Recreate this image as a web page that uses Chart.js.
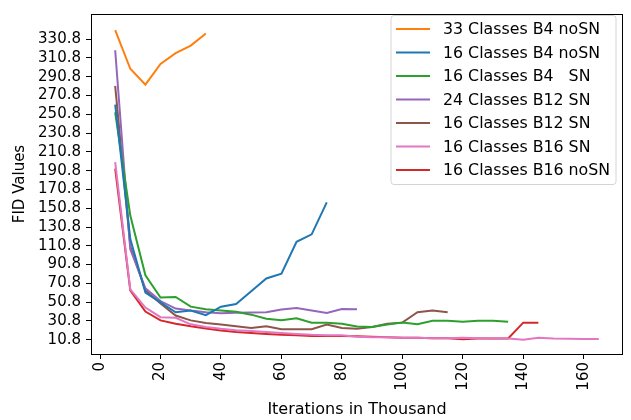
<!DOCTYPE html>
<html><head><meta charset="utf-8">
<script src="https://cdn.jsdelivr.net/npm/chart.js@4.4.1/dist/chart.umd.min.js"></script>
<style>html,body{margin:0;padding:0;background:#fff;overflow:hidden}#wrap{width:631px;height:420px;position:relative}</style>
</head><body><div id="wrap"><canvas id="c" width="631" height="420"></canvas></div>
<script>
// ---- data ----
const iterations = [5,10,15,20,25,30,35,40,45,50,55,60,65,70,75,80,85,90,95,100,105,110,115,120,125,130,135,140,145,150,155,160,165];
const labels = ["33 Classes B4 noSN","16 Classes B4 noSN","16 Classes B4   SN","24 Classes B12 SN","16 Classes B12 SN","16 Classes B16 SN","16 Classes B16 noSN"];
const c33B4noSN = [340.4, 299.3, 282.4, 304.5, 316, 324, 336.8];
const c16B4noSN = [261, 118, 61, 50.5, 40, 41.8, 37, 46, 48.8, 62.5, 76, 81, 115, 123, 157];
const c16B4SN = [253, 143, 79.4, 55.7, 56.4, 46, 43.2, 42, 40.5, 37.5, 33.1, 31.5, 33.6, 29, 29, 27.9, 25, 24.4, 26.9, 29, 27.2, 31, 31, 30, 31, 31, 30];
const c24B12SN = [319, 107, 65.5, 52, 44, 41.8, 40, 39, 39.5, 39.7, 40, 43, 44.6, 41.8, 39.2, 43.6, 43.2];
const c16B12SN = [281, 110, 63.4, 49.4, 36.6, 31.4, 28.5, 27, 25.1, 23.3, 25.1, 22, 22, 22, 26.9, 23.3, 22.5, 24.4, 27.9, 29, 40, 41.8, 40];
const c16B16SN = [200, 64.5, 45, 34.8, 34.2, 27.2, 24.4, 22.5, 21, 20, 19, 18, 17, 16, 15.5, 15.5, 14, 13.5, 13.5, 13, 13, 12.5, 12.5, 13, 12.5, 12, 12, 10.8, 12.9, 12, 11.8, 11.5, 11.5];
const c16B16noSN = [193, 63.4, 40.8, 31.4, 27.9, 25.1, 22.7, 20.5, 19, 18, 17, 16, 15.5, 14.7, 14.7, 14.7, 14.5, 14, 13.5, 13, 12.8, 12.5, 12.3, 11.2, 12, 12, 12.2, 29, 29];
const xTicks = [0,20,40,60,80,100,120,140,160];
const yTicks = [10.8,30.8,50.8,70.8,90.8,110.8,130.8,150.8,170.8,190.8,210.8,230.8,250.8,270.8,290.8,310.8,330.8];

const seriesList = [c33B4noSN, c16B4noSN, c16B4SN, c24B12SN, c16B12SN, c16B16SN, c16B16noSN];
const colors = ['#ff7f0e','#1f77b4','#2ca02c','#9467bd','#8c564b','#e377c2','#d62728'];

Chart.defaults.font.family = "'DejaVu Sans', sans-serif";
Chart.defaults.color = '#000';

const datasets = seriesList.map((vals, i) => ({
  label: labels[i],
  data: vals.map((v, j) => ({x: iterations[j], y: v})),
  borderColor: colors[i],
  backgroundColor: colors[i],
  borderWidth: 2,
  pointRadius: 0,
  tension: 0,
  fill: false
}));

const framePlugin = {
  id: 'frame',
  afterDraw(chart) {
    const {ctx, chartArea: a} = chart;
    ctx.save();
    ctx.strokeStyle = '#000';
    ctx.lineWidth = 1;
    ctx.strokeRect(Math.round(a.left) + 0.5, Math.round(a.top) + 0.5, Math.round(a.right - a.left) - 1, Math.round(a.bottom - a.top));
    // legend
    const bx = 391, by = 15.5, bw = 225, bh = 169, r = 3;
    ctx.beginPath();
    ctx.moveTo(bx + r, by);
    ctx.arcTo(bx + bw, by, bx + bw, by + bh, r);
    ctx.arcTo(bx + bw, by + bh, bx, by + bh, r);
    ctx.arcTo(bx, by + bh, bx, by, r);
    ctx.arcTo(bx, by, bx + bw, by, r);
    ctx.closePath();
    ctx.fillStyle = 'rgba(255,255,255,0.85)';
    ctx.fill();
    ctx.strokeStyle = '#d4d4d4';
    ctx.lineWidth = 1;
    ctx.stroke();
    ctx.font = "15.8px 'DejaVu Sans'";
    ctx.textBaseline = 'middle';
    ctx.textAlign = 'left';
    chart.data.datasets.forEach((ds, i) => {
      const y = 29 + i * 23.5;
      ctx.strokeStyle = ds.borderColor;
      ctx.lineWidth = 2;
      ctx.beginPath();
      ctx.moveTo(396, y);
      ctx.lineTo(430, y);
      ctx.stroke();
      ctx.fillStyle = '#000';
      ctx.fillText(ds.label, 443, y + 1);
    });
    ctx.restore();
  }
};

new Chart(document.getElementById('c'), {
  type: 'line',
  data: { datasets },
  options: {
    responsive: false,
    animation: false,
    devicePixelRatio: 1,
    layout: { padding: { top: 7, right: 8, left: 0, bottom: 0 } },
    plugins: { legend: { display: false }, tooltip: { enabled: false } },
    scales: {
      x: {
        type: 'linear',
        min: -3, max: 173,
        afterBuildTicks: s => { s.ticks = xTicks.map(v => ({value: v})); },
        afterFit: s => { s.height = 66; },
        ticks: { minRotation: 90, maxRotation: 90, autoSkip: false, padding: 3, font: { size: 15 }, color: '#000' },
        grid: { drawOnChartArea: false, drawTicks: true, tickLength: 5, tickColor: '#000', tickWidth: 1 },
        border: { display: false },
        title: { display: true, text: 'Iterations in Thousand', font: { size: 16 }, color: '#000', padding: { top: 0, bottom: 1 } }
      },
      y: {
        type: 'linear',
        min: -4.4, max: 357.6,
        afterBuildTicks: s => { s.ticks = yTicks.map(v => ({value: v})); },
        afterFit: s => { s.width = 91; },
        ticks: { autoSkip: false, padding: 5, font: { size: 15 }, color: '#000', callback: v => Number(v).toFixed(1) },
        grid: { drawOnChartArea: false, drawTicks: true, tickLength: 5, tickColor: '#000', tickWidth: 1 },
        border: { display: false },
        title: { display: true, text: 'FID Values', font: { size: 15 }, color: '#000', padding: { top: 11, bottom: 0 } }
      }
    }
  },
  plugins: [framePlugin]
});
</script>
</body></html>
